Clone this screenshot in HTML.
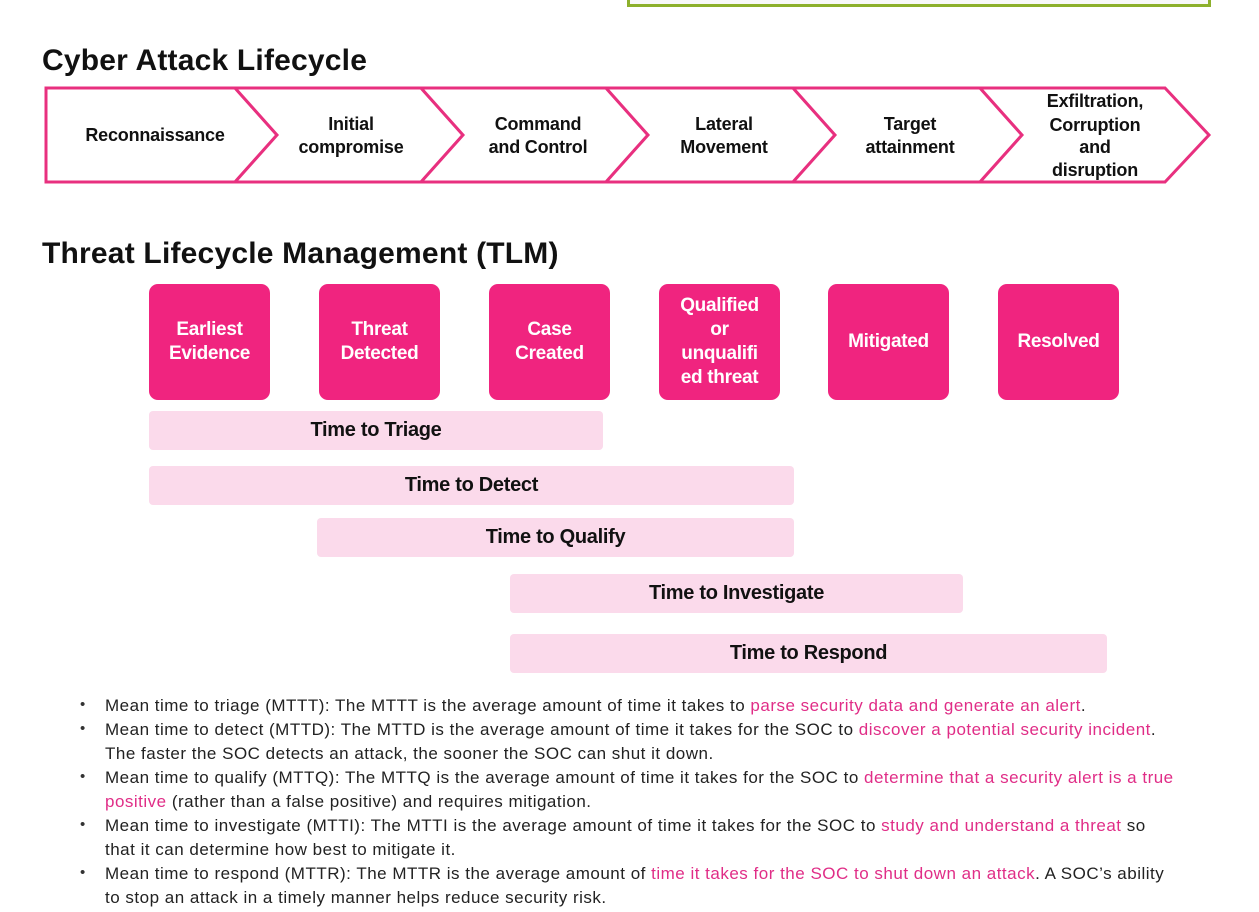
<!DOCTYPE html>
<html><head><meta charset="utf-8"><style>
body{margin:0;width:1259px;height:912px;background:#fff;position:relative;overflow:hidden;font-family:"Liberation Sans",sans-serif}
.a{position:absolute}
h1{position:absolute;margin:0;font-size:30px;font-weight:bold;color:#111;letter-spacing:0.2px;white-space:nowrap}
.box{position:absolute;top:284px;height:116px;width:121px;background:#f0247f;border-radius:9px;color:#fff;font-weight:bold;font-size:19px;line-height:24px;display:flex;align-items:center;justify-content:center;text-align:center;letter-spacing:-0.3px}
.bar{position:absolute;background:#fbdaeb;border-radius:4px;height:39px;display:flex;align-items:center;justify-content:center;font-weight:bold;font-size:20px;color:#111;letter-spacing:-0.3px}
.l{position:absolute;left:105px;font-size:17px;color:#222;white-space:nowrap;letter-spacing:0.5px;line-height:20px}
.d{position:absolute;left:80px;font-size:15px;color:#333}
.p{color:#e02d87}
</style></head><body>
<div class="a" style="left:627px;top:-4px;width:578px;height:8px;border:3px solid #8db02c;border-top:none;background:#f8f8f8"></div>
<h1 style="left:42px;top:44px">Cyber Attack Lifecycle</h1>
<svg class="a" style="left:0;top:0" width="1259" height="200">
<g fill="#fff" stroke="#e8307f" stroke-width="3" stroke-linejoin="miter">
<polygon points="46,88 235,88 277,135 235,182 46,182"/>
<polygon points="235,88 421,88 463,135 421,182 235,182 277,135"/>
<polygon points="421,88 606,88 648,135 606,182 421,182 463,135"/>
<polygon points="606,88 793,88 835,135 793,182 606,182 648,135"/>
<polygon points="793,88 980,88 1022,135 980,182 793,182 835,135"/>
<polygon points="980,88 1165,88 1209,135 1165,182 980,182 1022,135"/>
</g>
<g font-family="Liberation Sans" font-weight="bold" font-size="18" fill="#111" text-anchor="middle" letter-spacing="-0.2">
<text x="155" y="141">Reconnaissance</text>
<text x="351" y="130">Initial</text><text x="351" y="153">compromise</text>
<text x="538" y="130">Command</text><text x="538" y="153">and Control</text>
<text x="724" y="130">Lateral</text><text x="724" y="153">Movement</text>
<text x="910" y="130">Target</text><text x="910" y="153">attainment</text>
<text x="1095" y="107">Exfiltration,</text><text x="1095" y="131">Corruption</text><text x="1095" y="153">and</text><text x="1095" y="176">disruption</text>
</g></svg>
<h1 style="left:42px;top:237px">Threat Lifecycle Management (TLM)</h1>
<div class="box" style="left:149px">Earliest<br>Evidence</div>
<div class="box" style="left:319px">Threat<br>Detected</div>
<div class="box" style="left:489px">Case<br>Created</div>
<div class="box" style="left:659px">Qualified<br>or<br>unqualifi<br>ed threat</div>
<div class="box" style="left:828px">Mitigated</div>
<div class="box" style="left:998px">Resolved</div>
<div class="bar" style="left:149px;top:411px;width:454px">Time to Triage</div>
<div class="bar" style="left:149px;top:466px;width:645px">Time to Detect</div>
<div class="bar" style="left:317px;top:518px;width:477px">Time to Qualify</div>
<div class="bar" style="left:510px;top:574px;width:453px">Time to Investigate</div>
<div class="bar" style="left:510px;top:634px;width:597px">Time to Respond</div>
<div class="d" style="top:696px">•</div>
<div class="l" style="top:696px">Mean time to triage (MTTT): The MTTT is the average amount of time it takes to <span class="p">parse security data and generate an alert</span>.</div>
<div class="d" style="top:720px">•</div>
<div class="l" style="top:720px">Mean time to detect (MTTD): The MTTD is the average amount of time it takes for the SOC to <span class="p">discover a potential security incident</span>.</div>
<div class="l" style="top:744px">The faster the SOC detects an attack, the sooner the SOC can shut it down.</div>
<div class="d" style="top:768px">•</div>
<div class="l" style="top:768px">Mean time to qualify (MTTQ): The MTTQ is the average amount of time it takes for the SOC to <span class="p">determine that a security alert is a true</span></div>
<div class="l" style="top:792px"><span class="p">positive</span> (rather than a false positive) and requires mitigation.</div>
<div class="d" style="top:816px">•</div>
<div class="l" style="top:816px">Mean time to investigate (MTTI): The MTTI is the average amount of time it takes for the SOC to <span class="p">study and understand a threat</span> so</div>
<div class="l" style="top:840px">that it can determine how best to mitigate it.</div>
<div class="d" style="top:864px">•</div>
<div class="l" style="top:864px">Mean time to respond (MTTR): The MTTR is the average amount of <span class="p">time it takes for the SOC to shut down an attack</span>. A SOC’s ability</div>
<div class="l" style="top:888px">to stop an attack in a timely manner helps reduce security risk.</div>
</body></html>
